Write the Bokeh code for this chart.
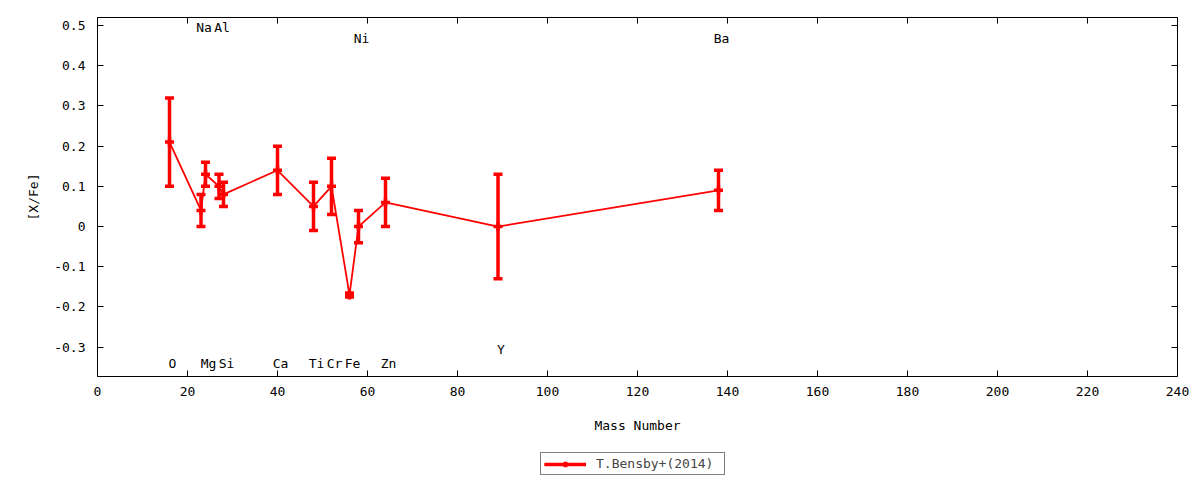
from bokeh.plotting import figure
from bokeh.layouts import column
from bokeh.models import (Range1d, LinearAxis, FixedTicker, CustomJSTickFormatter,
                          Legend, LegendItem, ColumnDataSource)
from bokeh.core.properties import value
from bokeh.embed import file_html
from bokeh.resources import INLINE

# ---- data ----
mass = [16, 23, 24, 27, 28, 40, 48, 52, 56, 58, 64, 89, 138]
xfe = [0.21, 0.04, 0.13, 0.10, 0.08, 0.14, 0.05, 0.10, -0.17, 0.00, 0.06, 0.00, 0.09]
err = [0.11, 0.04, 0.03, 0.03, 0.03, 0.06, 0.06, 0.07, 0.005, 0.04, 0.06, 0.13, 0.05]

label_names = ["O", "Na", "Mg", "Al", "Si", "Ca", "Ti", "Cr", "Fe", "Ni", "Zn", "Y", "Ba"]
label_mass = [16, 23, 24, 27, 28, 40, 48, 52, 56, 58, 64, 89, 138]
label_y = [-0.34, 0.495, -0.34, 0.495, -0.34, -0.34, -0.34, -0.34, -0.34, 0.468, -0.34, -0.305, 0.468]

x_ticks = [0, 20, 40, 60, 80, 100, 120, 140, 160, 180, 200, 220, 240]
y_ticks = [-0.3, -0.2, -0.1, 0.0, 0.1, 0.2, 0.3, 0.4, 0.5]

series_name = "T.Bensby+(2014)"

FONT = "DejaVu Sans Mono"
RED = "#ff0000"

lo = [v - e for v, e in zip(xfe, err)]
hi = [v + e for v, e in zip(xfe, err)]
src = ColumnDataSource(dict(x=mass, y=xfe, lo=lo, hi=hi))

p = figure(frame_width=1080, frame_height=359, output_backend="svg", toolbar_location=None,
           x_range=Range1d(0, 240), y_range=Range1d(-0.373, 0.52),
           min_border_left=97, min_border_right=15, min_border_top=17, min_border_bottom=60)
p.grid.visible = False
p.outline_line_color = "black"
p.outline_line_width = 1
p.background_fill_color = "white"
p.border_fill_color = "white"

def style_axis(ax, show_labels=True):
    ax.axis_line_color = None
    ax.major_tick_in = 6
    ax.major_tick_out = 0
    ax.minor_tick_line_color = None
    ax.major_tick_line_color = "black"
    ax.major_label_text_font = FONT
    ax.major_label_text_font_size = "13px"
    ax.major_label_text_color = "black"
    ax.axis_label_text_font = FONT
    ax.axis_label_text_font_size = "13px"
    ax.axis_label_text_font_style = "normal"
    ax.axis_label_text_color = "black"
    if not show_labels:
        ax.major_label_text_color = None
        ax.major_label_standoff = 0

p.xaxis.ticker = FixedTicker(ticks=x_ticks)
p.yaxis.ticker = FixedTicker(ticks=y_ticks)
p.yaxis.formatter = CustomJSTickFormatter(code="return Math.abs(tick) < 1e-9 ? '0' : tick.toFixed(1);")
p.xaxis.axis_label = "Mass Number"
p.yaxis.axis_label = "[X/Fe]"
style_axis(p.xaxis[0])
style_axis(p.yaxis[0])
p.xaxis.major_label_standoff = 10
p.xaxis.axis_label_standoff = 19
p.yaxis.major_label_standoff = 12
p.yaxis.axis_label_standoff = 10

top = LinearAxis(ticker=FixedTicker(ticks=x_ticks))
right = LinearAxis(ticker=FixedTicker(ticks=y_ticks))
style_axis(top, False)
style_axis(right, False)
p.add_layout(top, "above")
p.add_layout(right, "right")

def draw_series(fig, source):
    ln = fig.line("x", "y", source=source, line_color=RED, line_width=1.8)
    sg = fig.segment("x", "lo", "x", "hi", source=source, line_color=RED, line_width=3.5)
    fig.scatter("x", "lo", source=source, marker="dash", size=9, line_color=RED, line_width=3.5)
    fig.scatter("x", "hi", source=source, marker="dash", size=9, line_color=RED, line_width=3.5)
    cc = fig.scatter("x", "y", source=source, marker="cross", size=9, line_color=RED, line_width=3.5)
    return [ln, sg, cc]

draw_series(p, src)

lsrc = ColumnDataSource(dict(x=label_mass, y=label_y, t=label_names))
p.text("x", "y", text="t", source=lsrc, x_offset=3, text_align="center", text_baseline="middle",
       text_font=value(FONT), text_font_size="13px", text_color="black")

# legend strip under the plot: the series is re-used only for its legend sample,
# its data lies outside this strip's (hidden) ranges so nothing is drawn here
lp = figure(width=1192, height=44, output_backend="svg", toolbar_location=None,
            x_range=Range1d(-20, -10), y_range=Range1d(-20, -10),
            x_axis_type=None, y_axis_type=None, min_border=0)
lp.grid.visible = False
lp.outline_line_color = None
lp.background_fill_color = "white"
lp.border_fill_color = "white"
sample = draw_series(lp, src)

legend = Legend(items=[LegendItem(label=series_name, renderers=sample)],
                location=(443, 5), orientation="horizontal",
                label_text_font=FONT, label_text_font_size="13px",
                border_line_color="black", border_line_width=1,
                padding=3, margin=0, glyph_width=42, glyph_height=14,
                label_standoff=10, label_width=125, spacing=0, background_fill_alpha=1)
lp.add_layout(legend, "center")

layout = column(p, lp, spacing=0)
open("out.html", "w").write(file_html(layout, INLINE))
